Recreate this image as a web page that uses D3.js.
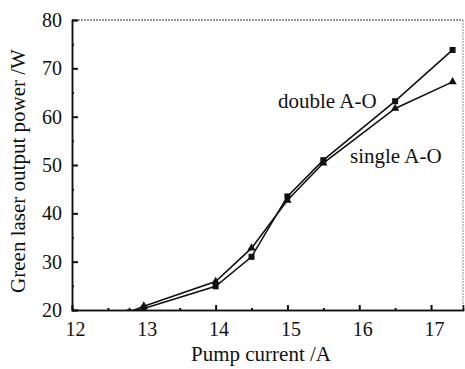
<!DOCTYPE html>
<html><head><meta charset="utf-8">
<script src="https://cdn.jsdelivr.net/npm/d3@7"></script>
</head><body style="margin:0">
<svg id="c" width="465" height="369"></svg>
<script>
const currents = [12.8, 13, 14, 14.5, 15, 15.5, 16.5, 17.3];
const doubleAO = [19.5, 20.3, 24.9, 31.0, 43.5, 51.0, 63.2, 73.8];
const singleAO = [19.6, 20.8, 25.9, 32.8, 42.7, 50.4, 61.7, 67.2];
const xTicks = [12, 13, 14, 15, 16, 17];
const xMinor = [12.5, 13.5, 14.5, 15.5, 16.5];
const yTicks = [20, 30, 40, 50, 60, 70, 80];
const yMinor = [25, 35, 45, 55, 65, 75];
const xTitle = "Pump current /A";
const yTitle = "Green laser output power /W";
const FONT = "Liberation Serif";

const svg = d3.select("#c").attr("font-family", FONT);
const L = 72, R = 463, T = 20, B = 310;
const x = d3.scaleLinear().domain([12, 17.445]).range([L, R]);
const y = d3.scaleLinear().domain([20, 80]).range([B, T]);

svg.append("rect").attr("width", 465).attr("height", 369).attr("fill", "#fff");
svg.append("defs").append("clipPath").attr("id", "plotclip")
  .append("rect").attr("x", L).attr("y", T - 10).attr("width", R - L + 10).attr("height", B - T + 10);

// frame top/right
svg.append("line").attr("x1", L).attr("x2", R).attr("y1", T).attr("y2", T).attr("stroke", "#333").attr("stroke-width", 1).attr("stroke-dasharray", "2,1");
svg.append("line").attr("x1", R).attr("x2", R).attr("y1", T).attr("y2", B).attr("stroke", "#888").attr("stroke-width", 1).attr("stroke-dasharray", "2,1");

// data
const mk = vals => currents.map((c, i) => [c, vals[i]]);
const line = d3.line().x(d => x(d[0])).y(d => y(d[1]));
const plot = svg.append("g").attr("clip-path", "url(#plotclip)");
[doubleAO, singleAO].forEach(v => {
  plot.append("path").datum(mk(v)).attr("d", line).attr("fill", "none").attr("stroke", "#111").attr("stroke-width", 1.6);
});
plot.append("g").selectAll("rect").data(mk(doubleAO)).join("rect")
  .attr("x", d => x(d[0]) - 3).attr("y", d => y(d[1]) - 3).attr("width", 6).attr("height", 6).attr("fill", "#111");
const tri = d3.symbol().type(d3.symbolTriangle).size(30);
plot.append("g").selectAll("path").data(mk(singleAO)).join("path")
  .attr("transform", d => `translate(${x(d[0])},${y(d[1])})`).attr("d", tri).attr("fill", "#111");

// axes
const xAxis = svg.append("g").attr("transform", `translate(0,${B})`)
  .call(d3.axisBottom(x).tickValues(xTicks).tickSize(-5).tickPadding(12).tickFormat(d3.format("d")));
const xm = svg.append("g").attr("transform", `translate(0,${B})`)
  .call(d3.axisBottom(x).tickValues(xMinor).tickSize(-2).tickFormat(""));
const yAxis = svg.append("g").attr("transform", `translate(${L},0)`)
  .call(d3.axisLeft(y).tickValues(yTicks).tickSize(-6).tickPadding(10).tickFormat(d3.format("d")));
const ym = svg.append("g").attr("transform", `translate(${L},0)`)
  .call(d3.axisLeft(y).tickValues(yMinor).tickSize(-2).tickFormat(""));
[xAxis, xm, yAxis, ym].forEach(g => {
  g.attr("font-family", FONT).attr("font-size", 20);
  g.select(".domain").attr("stroke", "#111").attr("stroke-width", 1.5);
  g.selectAll(".tick line").attr("stroke", "#111").attr("stroke-width", 2);
  g.selectAll("text").attr("fill", "#111").attr("font-family", FONT).style("font-family", `"${FONT}"`).style("font-size", "20px");
});
xAxis.selectAll(".tick text").attr("dx", 3);

// labels
const lab = (sel) => sel.attr("fill", "#111").attr("font-family", FONT).style("font-family", `"${FONT}"`).style("font-size", "21px");
lab(svg.append("text").attr("x", 278).attr("y", 108).text("double A-O"));
lab(svg.append("text").attr("x", 350).attr("y", 163).text("single A-O"));
lab(svg.append("text").attr("x", 261).attr("y", 361).attr("text-anchor", "middle").text(xTitle));
lab(svg.append("text").attr("transform", "translate(25,171) rotate(-90)").attr("text-anchor", "middle").text(yTitle));
</script></body></html>
